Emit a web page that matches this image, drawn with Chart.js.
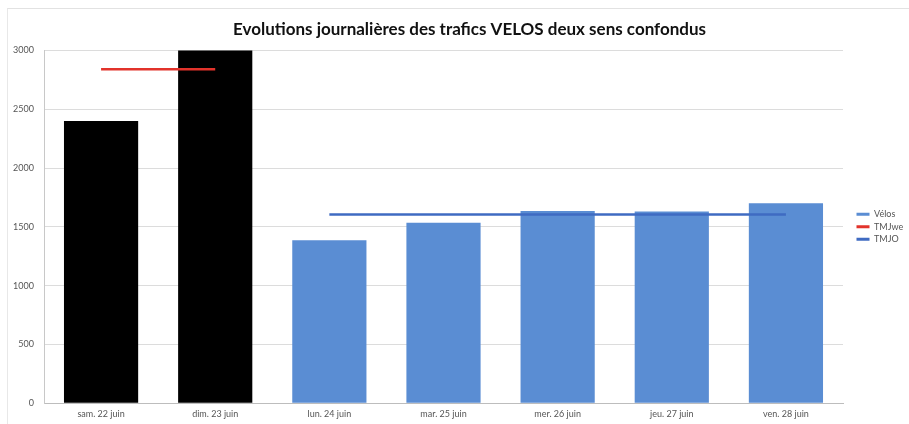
<!DOCTYPE html>
<html>
<head>
<meta charset="utf-8">
<script src="https://cdn.jsdelivr.net/npm/chart.js@4/dist/chart.umd.min.js"></script>
<style>
body { margin: 0; background: #fff; }
#wrap { position: relative; width: 909px; height: 424px; }
#frame { position: absolute; left: 7px; top: 8px; right: -2px; bottom: -2px;
	border-top: 1px solid #e2e2e2; border-left: 1px solid #e8e8e8; }
canvas { position: absolute; left: 0; top: 0; }
</style>
</head>
<body>
<div id="wrap">
<div id="frame"></div>
<canvas id="velos" width="909" height="424"></canvas>
</div>
<script>
var days = ["sam. 22 juin", "dim. 23 juin", "lun. 24 juin", "mar. 25 juin",
	    "mer. 26 juin", "jeu. 27 juin", "ven. 28 juin"];
var velos = [2400, 3280, 1385, 1535, 1635, 1630, 1700];
// weekend average, drawn only over sat/sun
var tmj_we = [2840, 2840, null, null, null, null, null];
// weekday average, drawn only over mon..fri
var tmj_o = [null, null, 1605, 1605, 1605, 1605, 1605];
var weekend = [true, true, false, false, false, false, false];

var blue = '#5a8dd3';
var font = 'Lato';

function bar_colors()
{
    return weekend.map(function(w) { return w ? '#000000' : blue; });
}

function legend_labels(chart)
{
    var items = Chart.defaults.plugins.legend.labels.generateLabels(chart);
    items.forEach(function(it) {
	var ds = chart.data.datasets[it.datasetIndex];
	it.fillStyle = ds.type == 'bar' ? blue : ds.borderColor;
	it.strokeStyle = it.fillStyle;
	it.lineWidth = 0;
    });
    return items;
}

// the title sits a bit right of the canvas centre, over the plot
var shift_title = {
    id: 'shift_title',
    afterLayout: function(chart) {
	chart.titleBlock.left += 26;
    }
};

new Chart(document.getElementById('velos'), {
    data: {
	labels: days,
	datasets: [{
	    type: 'bar',
	    label: 'Vélos',
	    data: velos,
	    backgroundColor: bar_colors(),
	    barPercentage: 0.65,
	    categoryPercentage: 1,
	    clip: 0,
	    order: 1
	}, {
	    type: 'line',
	    label: 'TMJwe',
	    data: tmj_we,
	    borderColor: '#e2332b',
	    borderWidth: 2.5,
	    pointRadius: 0,
	    spanGaps: false,
	    order: 0
	}, {
	    type: 'line',
	    label: 'TMJO',
	    data: tmj_o,
	    borderColor: '#3f6bc2',
	    borderWidth: 2.5,
	    pointRadius: 0,
	    spanGaps: false,
	    order: 0
	}]
    },
    plugins: [shift_title],
    options: {
	responsive: false,
	animation: false,
	events: [],
	layout: {
	    padding: { left: 8, right: 4, top: 0, bottom: 0 }
	},
	plugins: {
	    title: {
		display: true,
		text: 'Evolutions journalières des trafics VELOS deux sens confondus',
		color: '#111',
		font: { family: font, size: 17, weight: 'bold' },
		padding: { top: 19, bottom: 11 }
	    },
	    legend: {
		position: 'right',
		fullSize: false,
		maxWidth: 52,
		labels: {
		    boxWidth: 13,
		    boxHeight: 3,
		    padding: 3.5,
		    color: '#555',
		    font: { family: font, size: 9 },
		    generateLabels: legend_labels,
		    sort: function(a, b) { return a.datasetIndex - b.datasetIndex; }
		}
	    },
	    tooltip: { enabled: false }
	},
	scales: {
	    x: {
		grid: { display: false, drawTicks: false },
		border: { color: '#bdbdbd' },
		ticks: {
		    color: '#555',
		    padding: 5,
		    font: { family: font, size: 9 },
		    maxRotation: 0
		}
	    },
	    y: {
		min: 0,
		max: 3000,
		grid: { color: '#dcdcdc', drawTicks: false },
		border: { color: '#c8c8c8' },
		ticks: {
		    stepSize: 500,
		    color: '#555',
		    padding: 10,
		    font: { family: font, size: 9 },
		    callback: function(v) { return String(v); }
		},
		afterFit: function(s) { s.width = 36; }
	    },
	    // empty axis used as a gap between the plot and the legend
	    gap: {
		axis: 'y',
		position: 'right',
		display: true,
		grid: { display: false },
		border: { display: false },
		ticks: { display: false },
		afterFit: function(s) { s.width = 10; }
	    }
	}
    }
});
</script>
</body>
</html>
